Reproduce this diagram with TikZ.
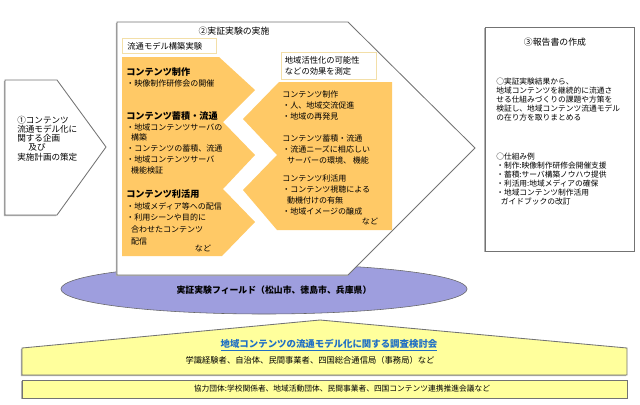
\documentclass[tikz,border=0pt]{standalone}
\usepackage{fontspec}
\setmainfont{Noto Sans CJK JP}
\usetikzlibrary{positioning,shapes.geometric,shadows}

\definecolor{orgold}{HTML}{FFC966}
\definecolor{tagline}{HTML}{F3DFA8}
\definecolor{fieldblue}{HTML}{9E9EDE}
\definecolor{paleyellow}{HTML}{FFFF9C}
\definecolor{linkblue}{HTML}{1F6FC5}

\newcommand\headtxt[1]{{\fontsize{6.5}{7.6}\selectfont\bfseries #1}}

\begin{document}
\begin{tikzpicture}[x=0.025cm, y=-0.025cm,
  panel/.style={draw=black!55, fill=white, line width=0.6pt,
    drop shadow={shadow xshift=-0.8pt, shadow yshift=-0.8pt, fill=black!30, opacity=1}},
  tag/.style={draw=tagline, fill=white, line width=0.6pt, align=left,
    inner sep=0pt, font=\fontsize{5.9}{7.7}\selectfont},
  txt/.style={inner sep=0pt, align=left, anchor=north west, font=\fontsize{5.7}{7.6}\selectfont},
  boxtxt/.style={inner sep=0pt, align=left, anchor=north west, font=\fontsize{5.5}{6.4}\selectfont}]

\useasboundingbox (0,0) rectangle (640,404);

% 1: planning
\draw[panel] (5,80) -- (57,80) -- (106,147) -- (57,215) -- (5,215) -- cycle;
\node[txt, font=\fontsize{6.1}{6.5}\selectfont] (plan) at (17,116)
  {①コンテンツ\\流通モデル化に\\関する企画\\\hspace{1.3em}及び\\実施計画の策定};

% field ellipse
\node[ellipse, draw=black!60, fill=fieldblue, minimum width=10.15cm, minimum height=1.25cm,
  inner sep=0pt] (field) at (264,289) {};
\node[font=\fontsize{6.3}{7}\selectfont\bfseries, inner sep=0pt] (fieldtxt) at (274,290)
  {実証実験フィールド（松山市、徳島市、兵庫県）};

% 2: experiment
\draw[panel] (117,22) -- (348,22) -- (475,148) -- (348,275) -- (117,275) -- cycle;
\node[font=\fontsize{6.3}{7}\selectfont, inner sep=0pt] (exptitle) at (234,31) {②実証実験の実施};

\fill[orgold] (122,57) -- (219,57) -- (255,90) -- (223,122) -- (255,155) -- (223,189)
  -- (255,222) -- (222,256) -- (122,256) -- cycle;
\fill[orgold] (279,82) -- (392,82) -- (392,230) -- (277,230) -- (243,190) -- (277,155)
  -- (243,119) -- cycle;

\node[tag, minimum width=2.35cm, minimum height=0.375cm, anchor=north west, text width=2.1cm]
  (buildtag) at (122,38) {流通モデル構築実験};
\node[tag, minimum width=2.375cm, minimum height=0.675cm, anchor=north west, text width=2.2cm]
  (effecttag) at (281,52) {地域活性化の可能性\\などの効果を測定};

% left column
\node[txt] (make) at (126,67.5) {\headtxt{コンテンツ制作}\\・映像制作研修会の開催};
\node[txt] (store) at (126,111.5)
  {\headtxt{コンテンツ蓄積・流通}\\・地域コンテンツサーバの\\\hspace{0.6em}構築\\
   ・コンテンツの蓄積、流通\\・地域コンテンツサーバ\\\hspace{0.6em}機能検証};
\node[txt, font=\fontsize{5.7}{8.3}\selectfont] (use) at (126,189.5)
  {\headtxt{コンテンツ利活用}\\・地域メディア等への配信\\・利用シーンや目的に\\
   \hspace{0.6em}合わせたコンテンツ\\\hspace{0.6em}配信};
\node[txt, anchor=center, font=\fontsize{5.7}{7}\selectfont] (usemore) at (203,248) {など};

% right column
\node[txt, font=\fontsize{5.7}{8}\selectfont] (effmake) at (282,90.5)
  {コンテンツ制作\\・人、地域交流促進\\・地域の再発見};
\node[txt, font=\fontsize{5.7}{7.8}\selectfont] (effstore) at (282,134.5)
  {コンテンツ蓄積・流通\\・流通ニーズに相応しい\\\hspace{0.6em}サーバーの環境、 機能};
\node[txt, font=\fontsize{5.7}{7.9}\selectfont] (effuse) at (282,174.5)
  {コンテンツ利活用\\・コンテンツ視聴による\\\hspace{0.6em}動機付けの有無\\・地域イメージの醸成};
\node[txt, anchor=center, font=\fontsize{5.7}{7}\selectfont] (effmore) at (370,221) {など};

% 3: report
\draw[panel] (485,27) rectangle (634,251);
\node[font=\fontsize{6.3}{7}\selectfont, inner sep=0pt] (reptitle) at (555,42) {③報告書の作成};
\node[boxtxt] (summary) at (496,78)
  {○実証実験結果から、\\地域コンテンツを継続的に流通さ\\せる仕組みづくりの課題や方策を\\
   検証し、地域コンテンツ流通モデル\\の在り方を取りまとめる};
\node[boxtxt] (cases) at (496,153)
  {○仕組み例\\・制作:映像制作研修会開催支援\\・蓄積:サーバ構築ノウハウ提供\\
   ・利活用:地域メディアの確保\\・地域コンテンツ制作活用\\\hspace{0.6em}ガイドブックの改訂};

% committee
\draw[panel, fill=paleyellow] (22,348) -- (320,320) -- (627,348) -- (627,375) -- (22,375) -- cycle;
\node[font=\fontsize{6.7}{7}\selectfont\bfseries, text=linkblue, inner sep=0pt] (council) at (329,345)
  {\underline{地域コンテンツの流通モデル化に関する調査検討会}};
\node[font=\fontsize{5.9}{7}\selectfont, inner sep=0pt] (members) at (310,360)
  {学識経験者、自治体、民間事業者、四国総合通信局（事務局）など};

\draw[panel, fill=paleyellow] (22,380) rectangle (627,398);
\node[font=\fontsize{5.5}{7}\selectfont, inner sep=0pt] (partners) at (342,389)
  {協力団体:学校関係者、地域活動団体、民間事業者、四国コンテンツ連携推進会議など};

\end{tikzpicture}
\end{document}
